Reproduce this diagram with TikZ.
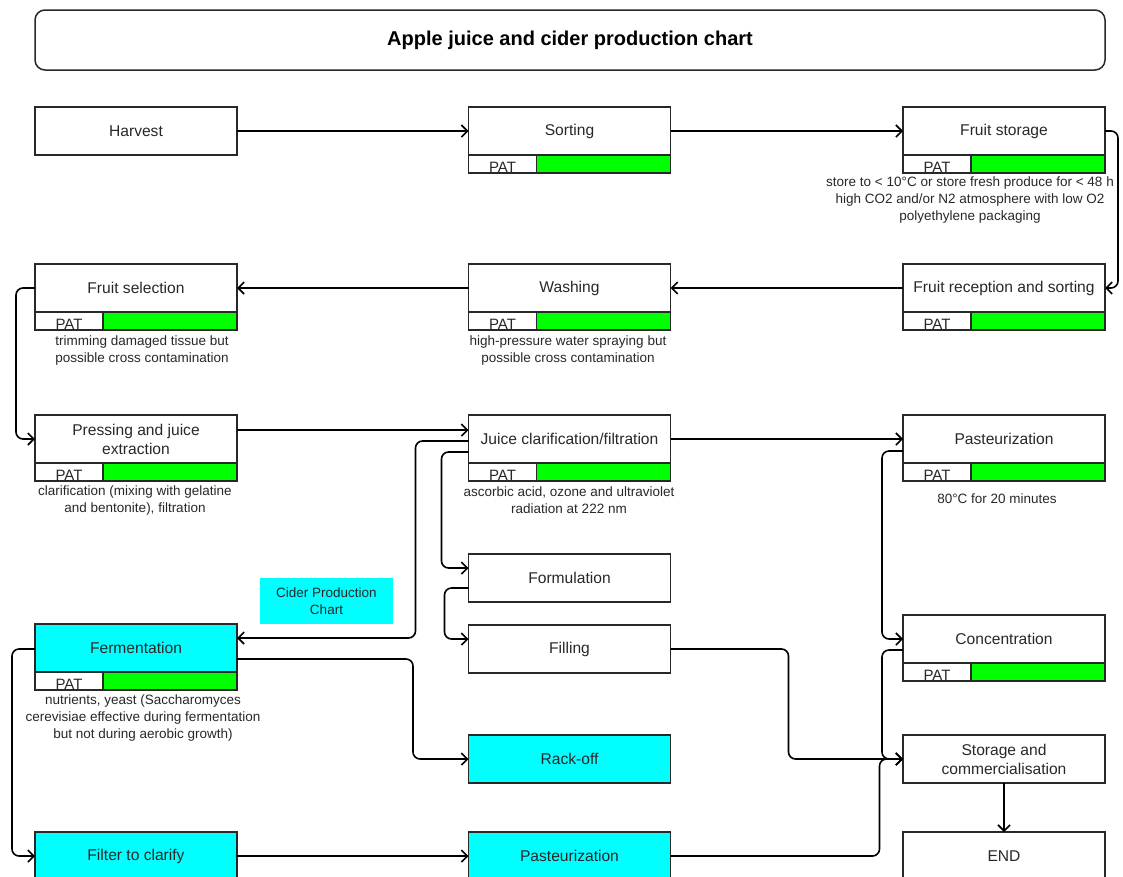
\documentclass[tikz,border=0pt]{standalone}
\usepackage{fontspec}
\setmainfont{Liberation Sans}
\usetikzlibrary{arrows.meta,calc}
\definecolor{linegray}{RGB}{40,40,40}
\definecolor{textgray}{RGB}{40,40,40}
\definecolor{patgreen}{RGB}{0,255,0}
\definecolor{cidercyan}{RGB}{0,255,255}
\begin{document}
\begin{tikzpicture}[x=1pt,y=-1pt,
    stepbox/.style ={rectangle, draw=linegray, line width=1.5pt, fill=white, minimum width=202, minimum height=48, align=center, inner sep=0pt, outer sep=0pt, text=textgray, font=\fontsize{15.6}{19}\selectfont},
    ciderbox/.style ={stepbox, fill=cidercyan},
    patcell/.style ={rectangle, draw=linegray, line width=1.5pt, fill=white, minimum width=68, minimum height=18, inner sep=0pt, outer sep=0pt, anchor=north west, text=textgray, font=\fontsize{15}{18}\selectfont},
    patbar/.style ={rectangle, draw=linegray, line width=1.5pt, fill=patgreen, minimum width=134, minimum height=18, inner sep=0pt, outer sep=0pt, anchor=north west},
    note/.style ={align=center, inner sep=0pt, text=textgray, font=\fontsize{13.5}{17.2}\selectfont},
    flow/.style ={draw=black, line width=1.6pt, rounded corners=7pt, -{Straight Barb[length=6pt,width=12pt]}}]
   \clip (0,0) rectangle (1123,876);
   \fill[white] (0,0) rectangle (1123,876);

   % title
   \node[draw=linegray, line width=1.5pt, rounded corners=10pt, minimum width=1070, minimum height=60, text=black, font=\fontsize{20}{24}\selectfont\bfseries] (title) at (570,40) {Apple juice and cider production chart};

   % juice line
   \node[stepbox] (harvest) at (136,131) {Harvest};
   \node[stepbox] (sorting) at (569.5,131) {Sorting};
   \node[stepbox] (storage) at (1004,131) {Fruit storage};
   \node[stepbox] (selection) at (136,288) {Fruit selection};
   \node[stepbox] (washing) at (569.5,288) {Washing};
   \node[stepbox] (reception) at (1004,288) {Fruit reception and sorting};
   \node[stepbox] (pressing) at (136,439) {Pressing and juice\\extraction};
   \node[stepbox] (clarif) at (569.5,439) {Juice clarification/filtration};
   \node[stepbox] (pasteur) at (1004,439) {Pasteurization};
   \node[stepbox] (formul) at (569.5,578) {Formulation};
   \node[stepbox] (filling) at (569.5,649) {Filling};
   \node[stepbox] (concen) at (1004,639) {Concentration};
   \node[stepbox] (storecomm) at (1004,759) {Storage and\\commercialisation};
   \node[stepbox] (endnode) at (1004,856) {END};

   % cider line
   \node[fill=cidercyan, minimum width=133, minimum height=46, inner sep=0pt, align=center, text=textgray, font=\fontsize{13.5}{17.2}\selectfont] (cidertag) at (326.5,601) {Cider Production\\Chart};
   \node[ciderbox] (ferment) at (136,648) {Fermentation};
   \node[ciderbox] (rackoff) at (569.5,759) {Rack-off};
   \node[ciderbox] (filter) at (136,856) {Filter to clarify};
   \node[ciderbox] (cpast) at (569.5,856) {Pasteurization};

   % PAT bars
   \node[patcell] (sortingpat) at (sorting.south west) {\raisebox{-8pt}[0pt][0pt]{PAT}};
   \node[patbar] at (sortingpat.north east) {};
   \node[patcell] (storagepat) at (storage.south west) {\raisebox{-8pt}[0pt][0pt]{PAT}};
   \node[patbar] at (storagepat.north east) {};
   \node[patcell] (selectionpat) at (selection.south west) {\raisebox{-8pt}[0pt][0pt]{PAT}};
   \node[patbar] at (selectionpat.north east) {};
   \node[patcell] (washingpat) at (washing.south west) {\raisebox{-8pt}[0pt][0pt]{PAT}};
   \node[patbar] at (washingpat.north east) {};
   \node[patcell] (receptionpat) at (reception.south west) {\raisebox{-8pt}[0pt][0pt]{PAT}};
   \node[patbar] at (receptionpat.north east) {};
   \node[patcell] (pressingpat) at (pressing.south west) {\raisebox{-8pt}[0pt][0pt]{PAT}};
   \node[patbar] at (pressingpat.north east) {};
   \node[patcell] (clarifpat) at (clarif.south west) {\raisebox{-8pt}[0pt][0pt]{PAT}};
   \node[patbar] at (clarifpat.north east) {};
   \node[patcell] (pasteurpat) at (pasteur.south west) {\raisebox{-8pt}[0pt][0pt]{PAT}};
   \node[patbar] at (pasteurpat.north east) {};
   \node[patcell] (concenpat) at (concen.south west) {\raisebox{-8pt}[0pt][0pt]{PAT}};
   \node[patbar] at (concenpat.north east) {};
   \node[patcell] (fermentpat) at (ferment.south west) {\raisebox{-8pt}[0pt][0pt]{PAT}};
   \node[patbar] at (fermentpat.north east) {};

   % notes
   \node[note] (storagenote) at (970,200) {store to < 10°C or store fresh produce for < 48 h\\high CO2 and/or N2 atmosphere with low O2\\polyethylene packaging};
   \node[note] (selectionnote) at (142,350.5) {trimming damaged tissue but\\possible cross contamination};
   \node[note] (washingnote) at (568,350.5) {high-pressure water spraying but\\possible cross contamination};
   \node[note] (pressingnote) at (135,500.5) {clarification (mixing with gelatine\\and bentonite), filtration};
   \node[note] (clarifnote) at (569,500.5) {ascorbic acid, ozone and ultraviolet\\radiation at 222 nm};
   \node[note] (pasteurnote) at (997,498.5) {80°C for 20 minutes};
   \node[note] (fermentnote) at (143,718) {nutrients, yeast (Saccharomyces\\cerevisiae effective during fermentation\\but not during aerobic growth)};

   % connectors
   \draw[flow] (harvest) -- (sorting);
   \draw[flow] (sorting) -- (storage);
   \draw[flow] (storage.east) -- ++(13,0) |- (reception.east);
   \draw[flow] (reception) -- (washing);
   \draw[flow] (washing) -- (selection);
   \draw[flow] (selection.west) -- ++(-19,0) |- (pressing.west);
   \draw[flow] ($(pressing.east)+(0,-9)$) -- ($(clarif.west)+(0,-9)$);
   \draw[flow] ($(clarif.west)+(0,2)$) -- ++(-53,0) |- ($(ferment.east)+(0,-10)$);
   \draw[flow] ($(clarif.west)+(0,13)$) -- ++(-27,0) |- ($(formul.west)+(0,-10)$);
   \draw[flow] ($(formul.west)+(0,10)$) -- ++(-24,0) |- ($(filling.west)+(0,-10)$);
   \draw[flow] (clarif) -- (pasteur);
   \draw[flow] ($(pasteur.west)+(0,12)$) -- ++(-21,0) |- (concen.west);
   \draw[flow] ($(concen.west)+(0,11)$) -- ++(-21,0) |- (storecomm.west);
   \draw[flow] (filling.east) -- ++(118,0) |- (storecomm.west);
   \draw[flow] (cpast.east) -- ++(209,0) |- (storecomm.west);
   \draw[flow] (storecomm) -- (endnode);
   \draw[flow] ($(ferment.west)+(0,1)$) -- ++(-23,0) |- (filter.west);
   \draw[flow] ($(ferment.east)+(0,11)$) -- ++(176,0) |- (rackoff.west);
   \draw[flow] (filter) -- (cpast);
\end{tikzpicture}
\end{document}
